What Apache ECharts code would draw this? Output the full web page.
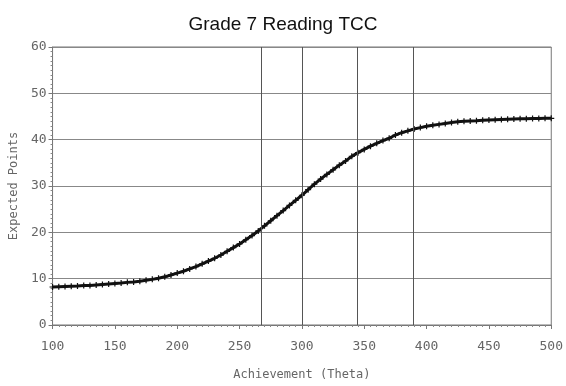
<!DOCTYPE html>
<html>
<head>
<meta charset="utf-8">
<script src="https://cdn.jsdelivr.net/npm/echarts@6/dist/echarts.min.js"></script>
<style>
  html, body { margin: 0; padding: 0; background: #fff; }
  #chart { width: 566px; height: 386px; }
</style>
</head>
<body>
<div id="chart"></div>
<script>
// theta values and expected points
var theta = [100, 105, 110, 115, 120, 125, 130, 135, 140, 145,
  150, 155, 160, 165, 170, 175, 180, 185, 190, 195,
  200, 205, 210, 215, 220, 225, 230, 235, 240, 245,
  250, 255, 260, 265, 270, 275, 280, 285, 290, 295,
  300, 305, 310, 315, 320, 325, 330, 335, 340, 345,
  350, 355, 360, 365, 370, 375, 380, 385, 390, 395,
  400, 405, 410, 415, 420, 425, 430, 435, 440, 445,
  450, 455, 460, 465, 470, 475, 480, 485, 490, 495, 500];
var expectedPoints = [8.2, 8.25, 8.3, 8.35, 8.4, 8.5, 8.55, 8.65, 8.75, 8.85,
  8.95, 9.05, 9.2, 9.3, 9.45, 9.65, 9.85, 10.1, 10.4, 10.8,
  11.2, 11.6, 12.1, 12.6, 13.2, 13.8, 14.4, 15.1, 15.9, 16.7,
  17.5, 18.4, 19.3, 20.3, 21.4, 22.5, 23.6, 24.7, 25.8, 26.9,
  28.0, 29.2, 30.4, 31.5, 32.5, 33.5, 34.5, 35.4, 36.4, 37.2,
  37.9, 38.6, 39.2, 39.8, 40.3, 41.0, 41.5, 41.9, 42.3, 42.6,
  42.9, 43.1, 43.3, 43.5, 43.7, 43.85, 43.95, 44.05, 44.1, 44.2,
  44.25, 44.3, 44.35, 44.4, 44.45, 44.5, 44.5, 44.55, 44.55, 44.6, 44.6];
// cut score reference lines
var cutScores = [267, 300, 344, 389];

var seriesData = theta.map(function (t, i) { return [t, expectedPoints[i]]; });

var axisFont = 'DejaVu Sans Mono';
var axisColor = '#666';

var myChart = echarts.init(document.getElementById('chart'));
myChart.setOption({
  animation: false,
  title: {
    text: 'Grade 7 Reading TCC',
    left: 'center',
    top: 10,
    textStyle: {
      fontFamily: 'Liberation Sans',
      fontSize: 19,
      fontWeight: 'normal',
      color: '#111'
    }
  },
  grid: {
    left: 52,
    right: 12,
    top: 47,
    bottom: 57,
    show: true,
    borderColor: '#777',
    borderWidth: 1
  },
  xAxis: {
    type: 'value',
    min: 100,
    max: 500,
    interval: 50,
    name: 'Achievement (Theta)',
    nameLocation: 'middle',
    nameGap: 44,
    nameTextStyle: { fontFamily: axisFont, fontSize: 12, color: axisColor },
    axisLine: { lineStyle: { color: '#777' } },
    axisTick: { length: 4, lineStyle: { color: '#777' } },
    minorTick: { show: true, splitNumber: 10, length: 2, lineStyle: { color: '#888' } },
    axisLabel: { fontFamily: axisFont, fontSize: 13, color: axisColor, margin: 15 },
    splitLine: { show: false }
  },
  yAxis: {
    type: 'value',
    min: 0,
    max: 60,
    interval: 10,
    name: 'Expected Points',
    nameLocation: 'middle',
    nameGap: 28,
    nameTextStyle: { fontFamily: axisFont, fontSize: 12, color: axisColor },
    axisLine: { show: true, lineStyle: { color: '#777' } },
    axisTick: { show: true, length: 4, lineStyle: { color: '#777' } },
    minorTick: { show: true, splitNumber: 10, length: 2, lineStyle: { color: '#888' } },
    axisLabel: { fontFamily: axisFont, fontSize: 13, color: axisColor, margin: 6 },
    splitLine: { show: true, lineStyle: { color: '#888', width: 1 } }
  },
  series: [
    {
      type: 'line',
      data: seriesData,
      symbol: 'path://M4,0h2v4h4v2h-4v4h-2v-4h-4v-2h4z',
      symbolSize: 6,
      showAllSymbol: true,
      itemStyle: { color: '#111' },
      lineStyle: { color: '#111', width: 3 },
      silent: true,
      markLine: {
        silent: true,
        symbol: ['none', 'none'],
        label: { show: false },
        lineStyle: { color: '#555', width: 1, type: 'solid' },
        data: cutScores.map(function (c) { return { xAxis: c }; })
      }
    }
  ]
});
</script>
</body>
</html>
